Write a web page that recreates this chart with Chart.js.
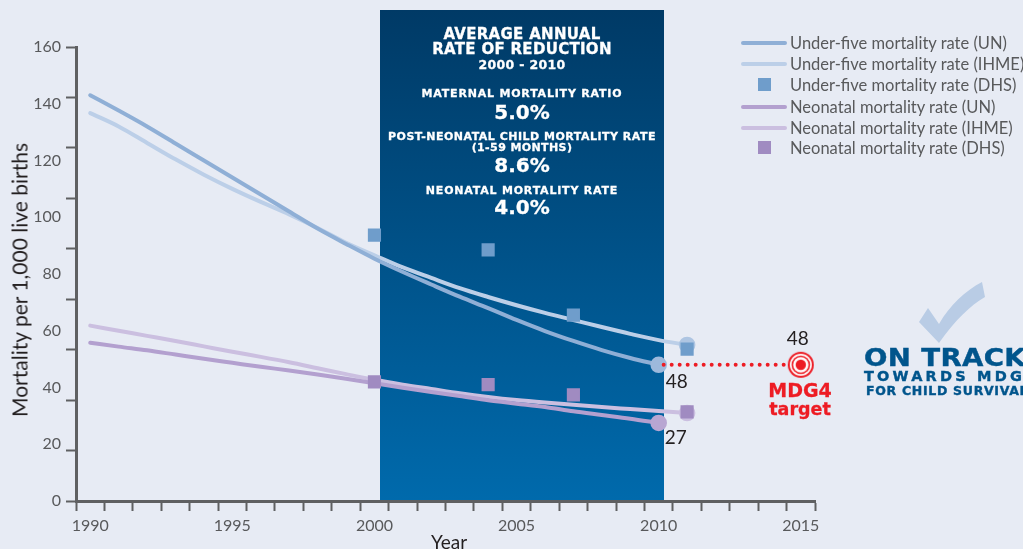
<!DOCTYPE html>
<html><head><meta charset="utf-8">
<script src="https://cdn.jsdelivr.net/npm/chart.js@4"></script>
<style>
html,body{margin:0;padding:0;background:#e7ebf4;width:1023px;height:549px;overflow:hidden;font-family:Lato,sans-serif}
#panel{position:absolute;left:380px;top:10px;width:284px;height:491px;background:linear-gradient(#003a66,#006aac)}
canvas{position:absolute;left:0;top:0}
.t{position:absolute;white-space:nowrap;line-height:1}
.c{left:380px;width:284px;text-align:center;color:#fff;font-family:"DejaVu Sans";font-weight:700;-webkit-text-stroke:.3px #fff}
.leg{position:absolute;left:741px;height:21px;width:282px}
.leg i{position:absolute;display:block}
.leg span{position:absolute;left:49px;top:0;line-height:21px;font-size:16.5px;color:#58595b;white-space:nowrap}
.b{color:#00558c;font-family:"DejaVu Sans";font-weight:700;left:864px;-webkit-text-stroke:.4px #00558c;transform-origin:left center}
.red{left:760px;width:80px;text-align:center;font-family:"DejaVu Sans";font-weight:700;color:#ed1c24;-webkit-text-stroke:.3px #ed1c24}
</style></head><body>
<div id="panel"></div>
<canvas id="c" width="1023" height="549"></canvas>
<div class="t" style="left:19px;top:280px;transform:translate(-50%,-50%) rotate(-90deg);font-size:21px;color:#231f20">Mortality per 1,000 live births</div>
<div class="t" style="left:449px;top:541px;transform:translate(-50%,-50%);font-size:19px;color:#231f20">Year</div>
<div class="t c" style="top:27px;font-size:15px;letter-spacing:.3px">AVERAGE ANNUAL</div>
<div class="t c" style="top:42px;font-size:15px;letter-spacing:.3px">RATE OF REDUCTION</div>
<div class="t c" style="top:59px;font-size:12.5px;letter-spacing:.3px">2000 - 2010</div>
<div class="t c" style="top:88px;font-size:11px;letter-spacing:.8px">MATERNAL MORTALITY RATIO</div>
<div class="t c" style="top:102px;font-size:20px">5.0%</div>
<div class="t c" style="top:131px;font-size:11px;letter-spacing:.5px">POST-NEONATAL CHILD MORTALITY RATE</div>
<div class="t c" style="top:142px;font-size:11px;letter-spacing:.4px">(1-59 MONTHS)</div>
<div class="t c" style="top:155px;font-size:20px">8.6%</div>
<div class="t c" style="top:185px;font-size:11px;letter-spacing:.8px">NEONATAL MORTALITY RATE</div>
<div class="t c" style="top:197px;font-size:20px">4.0%</div>
<div id="legend"></div>
<div class="t red" style="top:381px;font-size:19px">MDG4</div>
<div class="t red" style="top:401px;font-size:17.5px">target</div>
<svg style="position:absolute;left:910px;top:275px" width="85" height="75"><path d="M9 47 L18 33 L29 49 C40 30 55 16 72 7 L75 22 C60 31 46 44 29 68 Z" fill="#b9cce5"/></svg>
<div class="t b" style="top:346px;font-size:24px;letter-spacing:.3px;transform:scaleX(1.15)">ON TRACK</div>
<div class="t b" style="top:369px;font-size:14.5px;letter-spacing:3.2px">TOWARDS MDG4</div>
<div class="t b" style="top:385px;font-size:12.5px;letter-spacing:.7px;left:866px">FOR CHILD SURVIVAL</div>
<script>
const years=[1990,1991,1992,1993,1994,1995,1996,1997,1998,1999,2000,2001,2002,2003,2004,2005,2006,2007,2008,2009,2010,2011,2012,2013,2014,2015];
const yLabels=[0,20,40,60,80,100,120,140,160];
const under5UN=[143,137.6,132,126,120,114,108,102,96,90.6,85.4,80.7,76.3,72,68,63.8,59.9,56.4,53.2,50.4,48];
const under5IHME=[136.7,132,126.2,120.4,115,110,105.4,101,96.2,91,86.6,82.3,78.6,75,71.9,69,66.3,63.8,61.3,58.9,56.7,55];
const under5DHS=[null,null,null,null,null,null,null,null,null,null,93.7,null,null,null,88.5,null,null,65.5,null,null,null,53.5];
const neoUN=[55.8,54.4,53.1,51.6,50.1,48.7,47.3,46,44.6,43.1,41.5,39.9,38.4,37,35.5,34.3,33.1,31.6,30.3,29,27.5];
const neoIHME=[61.8,60,58.2,56.4,54.5,52.6,50.8,48.9,46.8,44.7,42.7,41,39.5,38,36.7,35.6,34.7,33.9,33.1,32.4,31.7,31];
const neoDHS=[null,null,null,null,null,null,null,null,null,null,42,null,null,null,41,null,null,37.4,null,null,null,31.4];
const mdgLine=[null,null,null,null,null,null,null,null,null,null,null,null,null,null,null,null,null,null,null,null,48,null,null,null,null,48];
const mdgPoint=[null,null,null,null,null,null,null,null,null,null,null,null,null,null,null,null,null,null,null,null,null,null,null,null,null,48];

const RED='#ed1c24';
const mark=document.createElement('canvas');mark.width=mark.height=28;
{const g=mark.getContext('2d');
 [[13,RED],[11,'#fff'],[9.3,RED],[7.7,'#fff'],[5.2,RED]].forEach(([r,col])=>{g.beginPath();g.arc(14,14,r,0,7);g.fillStyle=col;g.fill();});}

function lineDs(label,data,col,endCol,order){
 const last=data.length-1;
 return {label,data,yAxisID:'y',borderColor:col,backgroundColor:col,borderWidth:4,order,
  cubicInterpolationMode:'monotone',borderCapStyle:'round',
  pointBorderWidth:0,
  pointRadius:c=>c.dataIndex===last?8.3:0,
  pointBackgroundColor:endCol};
}
function sqDs(label,data,col,order){
 return {label,data,yAxisID:'y',showLine:false,pointStyle:'rect',pointRadius:9.3,pointBorderWidth:0,pointBackgroundColor:col,backgroundColor:col,borderColor:col,order};
}
const valueLabels=[{x:2010,y:48,dx:18,dy:17,t:'48'},{x:2015,y:48,dx:-3,dy:-26,t:'48'},{x:2010,y:27.5,dx:17,dy:15,t:'27'}];
const labelsPlugin={id:'valueLabels',afterDatasetsDraw(ch){
 const g=ch.ctx;g.save();g.font='19px Lato';g.fillStyle='#231f20';g.textAlign='center';g.textBaseline='middle';
 valueLabels.forEach(l=>g.fillText(l.t,ch.scales.x.getPixelForValue(years.indexOf(l.x))+l.dx,ch.scales.y.getPixelForValue(l.y)+l.dy));
 g.restore();}};

const AX='#5f6062',TXT='#58595b';
const chart=new Chart(document.getElementById('c'),{
 type:'line',
 data:{labels:years,datasets:[
  {label:'MDG4 target symbol',data:mdgPoint,yAxisID:'y',showLine:false,pointStyle:mark,order:0},
  {label:'MDG4 line',data:mdgLine,yAxisID:'y',spanGaps:true,borderColor:RED,borderWidth:4,borderDash:[0,8],borderDashOffset:3,borderCapStyle:'round',pointRadius:0,order:1},
  sqDs('Under-five mortality rate (DHS)',under5DHS,'#6f9dcb',2),
  sqDs('Neonatal mortality rate (DHS)',neoDHS,'#a08bc1',3),
  lineDs('Under-five mortality rate (IHME)',under5IHME,'#bccfe8','#aec5e2',6),
  lineDs('Under-five mortality rate (UN)',under5UN,'#8fafd6','#9db9dc',5),
  lineDs('Neonatal mortality rate (IHME)',neoIHME,'#cbbfe0','#cbbfe0',8),
  lineDs('Neonatal mortality rate (UN)',neoUN,'#b3a0cf','#b8a6d2',7)
 ]},
 plugins:[labelsPlugin],
 options:{
  responsive:false,animation:false,devicePixelRatio:1,
  layout:{padding:{top:47,right:208,left:0,bottom:0}},
  plugins:{legend:{display:false},tooltip:{enabled:false}},
  scales:{
   x:{type:'category',offset:true,
    afterFit:s=>{s.height=48},
    border:{color:AX,width:3},
    grid:{offset:true,drawOnChartArea:false,tickLength:10,tickWidth:2,tickColor:AX},
    ticks:{autoSkip:false,maxRotation:0,padding:5,color:TXT,font:{family:'Lato',size:16},
     callback(v,i){const y=years[i];return y%5===0?String(y):'';}}
   },
   yMarks:{position:'left',weight:0,min:0,max:9,
    afterFit:s=>{s.width=10},
    border:{color:AX,width:3},
    grid:{drawOnChartArea:false,tickLength:10,tickWidth:2,tickColor:AX},
    ticks:{stepSize:1,display:false}
   },
   y:{position:'left',weight:1,min:0,max:160,
    afterFit:s=>{s.width=66},
    border:{display:false},
    grid:{display:false,drawTicks:false,tickLength:0},
    ticks:{stepSize:20,padding:5,color:TXT,font:{family:'Lato',size:16},
     callback:v=>yLabels.includes(v)?String(v):''}
   }
  }
 }
});
const legOrder=[5,4,2,7,6,3];
const legY=[33,54,75,97,118,138];
const leg=document.getElementById('legend');
legOrder.forEach((idx,i)=>{
 const ds=chart.data.datasets[idx];
 const row=document.createElement('div');row.className='leg';row.style.top=legY[i]+'px';
 const sw=document.createElement('i');
 if(ds.showLine===false){sw.style.cssText='left:17px;top:3px;width:13px;height:13px;background:'+ds.backgroundColor;}
 else{sw.style.cssText='left:0;top:8px;width:46px;height:4px;border-radius:2px;background:'+ds.borderColor;}
 const tx=document.createElement('span');tx.textContent=ds.label;
 row.append(sw,tx);leg.append(row);
});
</script>
</body></html>
